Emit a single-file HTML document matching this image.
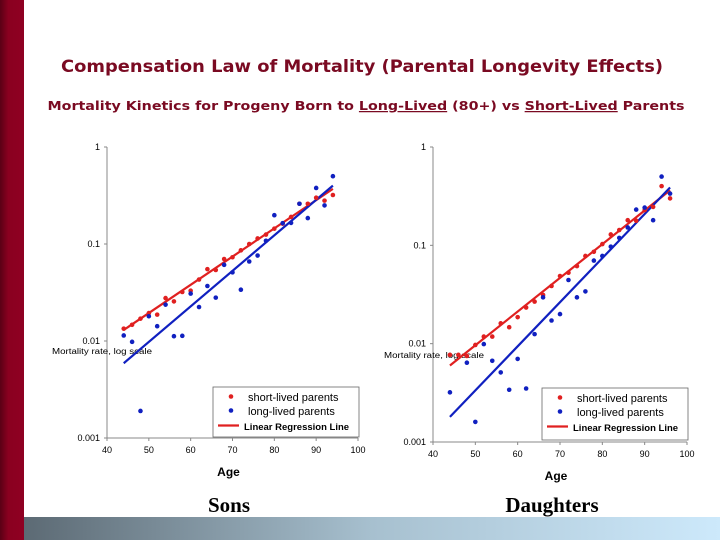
<!DOCTYPE html>
<html><head><meta charset="utf-8"><style>
html,body{margin:0;padding:0;background:#fff;}
svg{display:block;font-family:"Liberation Sans",Arial,sans-serif;}
</style></head><body>
<svg id="page" width="720" height="540" viewBox="0 0 720 540" xmlns="http://www.w3.org/2000/svg">
<defs>
<linearGradient id="bottomGrad" x1="0" x2="1" y1="0" y2="0">
<stop offset="0" stop-color="#5c6a74"/><stop offset="0.5" stop-color="#a7c0cf"/><stop offset="1" stop-color="#cde9fb"/>
</linearGradient>
<linearGradient id="sideGrad" x1="0" x2="1" y1="0" y2="0">
<stop offset="0" stop-color="#5a0015"/><stop offset="0.35" stop-color="#8a0020"/><stop offset="1" stop-color="#8f0022"/>
</linearGradient>
</defs>
<rect x="0" y="0" width="24" height="540" fill="url(#sideGrad)"/>
<rect x="24" y="517" width="696" height="23" fill="url(#bottomGrad)"/>
<text x="362" y="72" text-anchor="middle" font-family="DejaVu Sans,sans-serif" font-weight="bold" font-size="16.5" fill="#7a0a22" textLength="602" lengthAdjust="spacingAndGlyphs">Compensation Law of Mortality (Parental Longevity Effects)</text>
<text x="366" y="110" text-anchor="middle" font-family="DejaVu Sans,sans-serif" font-weight="bold" font-size="12.5" fill="#7a0a22" textLength="637" lengthAdjust="spacingAndGlyphs">Mortality Kinetics for Progeny Born to <tspan text-decoration="underline">Long-Lived</tspan> (80+) vs <tspan text-decoration="underline">Short-Lived</tspan> Parents</text>
<text x="229" y="512" text-anchor="middle" font-family="Liberation Serif,serif" font-weight="bold" font-size="21" fill="#000">Sons</text>
<text x="552" y="512" text-anchor="middle" font-family="Liberation Serif,serif" font-weight="bold" font-size="21" fill="#000">Daughters</text>
<g id="chartL"></g>
<g id="chartR"></g>
</svg>
<script>
const xTicks = [40, 50, 60, 70, 80, 90, 100];
const yTicks = [1, 0.1, 0.01, 0.001];
const yTickLabels = ["1", "0.1", "0.01", "0.001"];
const legendLabels = ["short-lived parents", "long-lived parents", "Linear Regression Line"];

const sonsAges = [44,46,48,50,52,54,56,58,60,62,64,66,68,70,72,74,76,78,80,82,84,86,88,90,92,94];
const sonsShort = [0.0134,0.0147,0.0170,0.0194,0.0187,0.0277,0.0256,0.032,0.033,0.043,0.055,0.054,0.070,0.073,0.086,0.10,0.114,0.125,0.144,0.162,0.19,0.26,0.26,0.30,0.28,0.32];
const sonsLong = [0.0114,0.0098,0.0019,0.018,0.0142,0.0237,0.0112,0.0113,0.0308,0.0224,0.0369,0.028,0.061,0.051,0.0338,0.066,0.076,0.108,0.198,0.164,0.165,0.26,0.185,0.378,0.25,0.50];
const sonsShortFit = [[44, 0.0130], [94, 0.37]];
const sonsLongFit = [[44, 0.0059], [94, 0.40]];

const dauAges = [44,46,48,50,52,54,56,58,60,62,64,66,68,70,72,74,76,78,80,82,84,86,88,90,92,94,96];
const dauShort = [0.0077,0.0077,0.0075,0.0097,0.0118,0.0118,0.0161,0.0147,0.0186,0.0233,0.0268,0.0313,0.0386,0.0487,0.0527,0.0615,0.078,0.086,0.103,0.129,0.143,0.18,0.178,0.228,0.246,0.40,0.30];
const dauLongAges = [44,48,50,52,54,56,58,60,62,64,66,68,70,72,74,76,78,80,82,84,86,88,90,92,94,96];
const dauLong = [0.0032,0.0064,0.0016,0.0099,0.0067,0.0051,0.0034,0.0070,0.0035,0.0125,0.0296,0.0172,0.020,0.0444,0.0296,0.034,0.070,0.078,0.097,0.119,0.152,0.231,0.242,0.180,0.50,0.336];
const dauShortFit = [[44, 0.006], [96, 0.363]];
const dauLongFit = [[44, 0.0018], [96, 0.387]];

const NS = "http://www.w3.org/2000/svg";
function mk(parent, tag, attrs, text) {
  const e = document.createElementNS(NS, tag);
  for (const k in attrs) e.setAttribute(k, attrs[k]);
  if (text !== undefined) e.textContent = text;
  parent.appendChild(e);
  return e;
}

function drawChart(g, cfg) {
  const xs = v => cfg.x0 + (v - 40) / 60 * (cfg.x1 - cfg.x0);
  const ys = v => cfg.yTop + (-Math.log10(v)) / 3 * (cfg.yBot - cfg.yTop);
  const axes = mk(g, "path", {d: `M${cfg.x0},${cfg.yTop} L${cfg.x0},${cfg.yBot} L${cfg.x1},${cfg.yBot}`, fill: "none", stroke: "#888", "stroke-width": 1});
  
  
  xTicks.forEach(t => {
    const X = xs(t);
    mk(g, "line", {x1: X, x2: X, y1: cfg.yBot, y2: cfg.yBot + 3, stroke: "#888"});
    const lab = mk(g, "text", {x: X, y: cfg.yBot + 15, "text-anchor": "middle", "font-size": 9, fill: "#000"}, String(t));
    
    
  });
  yTicks.forEach((t, i) => {
    const Y = ys(t);
    mk(g, "line", {x1: cfg.x0 - 3, x2: cfg.x0, y1: Y, y2: Y, stroke: "#888"});
    const lab = mk(g, "text", {x: cfg.x0 - 7, y: Y + 3, "text-anchor": "end", "font-size": 9, fill: "#000"}, yTickLabels[i]);
    
    
  });
  const yt = mk(g, "text", {x: cfg.ylabX, y: cfg.ylabY, "font-size": 8, fill: "#000", textLength: 100, lengthAdjust: "spacingAndGlyphs"}, "Mortality rate, log scale");
  
  
  const xt = mk(g, "text", {x: (cfg.x0 + cfg.x1) / 2 - 4, y: cfg.yBot + 38, "text-anchor": "middle", "font-size": 12, "font-weight": "bold", fill: "#000"}, "Age");
  
  
  [[cfg.shortFit, "#e02020"], [cfg.longFit, "#1020c0"]].forEach(([f, c], i) => {
    const l = mk(g, "line", {x1: xs(f[0][0]), y1: ys(f[0][1]), x2: xs(f[1][0]), y2: ys(f[1][1]), stroke: c, "stroke-width": 2.2});
    
    
  });
  cfg.shortAges.forEach((a, i) => {
    const p = mk(g, "circle", {cx: xs(a), cy: ys(cfg.shortVals[i]), r: 2.3, fill: "#e02020"});
    
    
  });
  cfg.longAges.forEach((a, i) => {
    const p = mk(g, "circle", {cx: xs(a), cy: ys(cfg.longVals[i]), r: 2.3, fill: "#1020c0"});
    
    
  });
  const L = cfg.legend;
  const lg = mk(g, "g", {});
  
  
  mk(lg, "rect", {x: L.x, y: L.y, width: L.w, height: L.h, fill: "#fff", stroke: "#666", "stroke-width": 0.8});
  const rows = [L.y + 13, L.y + 27, L.y + 42];
  mk(lg, "circle", {cx: L.x + 18, cy: rows[0] - 3.5, r: 2.3, fill: "#e02020"});
  mk(lg, "circle", {cx: L.x + 18, cy: rows[1] - 3.5, r: 2.3, fill: "#1020c0"});
  mk(lg, "line", {x1: L.x + 5, x2: L.x + 26, y1: rows[2] - 3.5, y2: rows[2] - 3.5, stroke: "#e02020", "stroke-width": 2.2});
  legendLabels.forEach((t, i) => {
    const e = mk(lg, "text", {x: i < 2 ? L.x + 35 : L.x + 31, y: rows[i] + 1, "font-size": i < 2 ? 11 : 9.5, "font-weight": i < 2 ? "normal" : "bold", fill: "#000"}, t);
    
    
  });
}

drawChart(document.getElementById("chartL"), {
  x0: 107, x1: 358, yTop: 147, yBot: 438, ylabX: 52, ylabY: 354,
  shortAges: sonsAges, shortVals: sonsShort, longAges: sonsAges, longVals: sonsLong,
  shortFit: sonsShortFit, longFit: sonsLongFit,
  legend: {x: 213, y: 387, w: 146, h: 50}
});
drawChart(document.getElementById("chartR"), {
  x0: 433, x1: 687, yTop: 147, yBot: 442, ylabX: 384, ylabY: 358,
  shortAges: dauAges, shortVals: dauShort, longAges: dauLongAges, longVals: dauLong,
  shortFit: dauShortFit, longFit: dauLongFit,
  legend: {x: 542, y: 388, w: 146, h: 52}
});
</script>
</body></html>
